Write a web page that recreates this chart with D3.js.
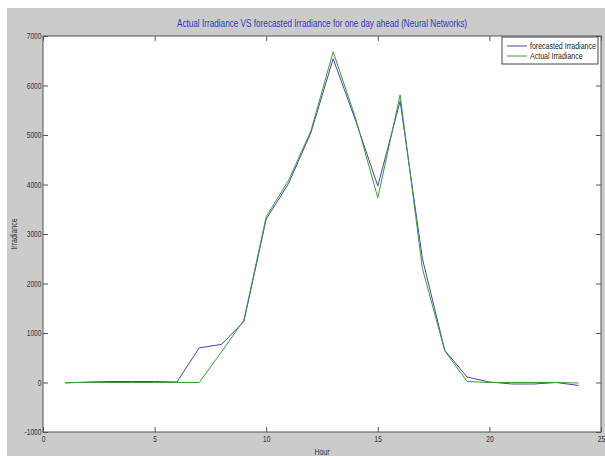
<!DOCTYPE html>
<html>
<head>
<meta charset="utf-8" />
<title>Actual vs forecasted irradiance</title>
<style>
body { margin: 0; background: #fff; }
#graph { width: 605px; height: 456px; }
text { font-family: "Liberation Sans", Arial, sans-serif; }
.axis text { font-size: 8.5px; fill: #333; }
.axis line { stroke: #555; }
.axis .domain { display: none; }
</style>
</head>
<body>
<div id="graph"></div>
<script src="https://cdnjs.cloudflare.com/ajax/libs/d3/7.8.5/d3.min.js"></script>
<script>
!(function(){
    "use strict"

    // hours 1..24
    var hours = [1,2,3,4,5,6,7,8,9,10,11,12,13,14,15,16,17,18,19,20,21,22,23,24]
    var forecasted = [-10,10,20,20,20,10,700,770,1230,3300,4020,5040,6540,5300,3970,5680,2500,650,110,10,-30,-30,0,-60]
    var actual     = [0,0,0,0,0,0,0,620,1260,3350,4080,5080,6680,5350,3730,5810,2300,640,20,0,0,0,0,-10]

    var xTicks = [0,5,10,15,20,25]
    var yTicks = [-1000,0,1000,2000,3000,4000,5000,6000,7000]

    var series = [
        { name: "forecasted Irradiance", values: forecasted, color: "#4646a8" },
        { name: "Actual Irradiance",     values: actual,     color: "#3a9a3a" }
    ]

    var width = 605, height = 456
    var margin = { top: 36, left: 43, bottom: 24, right: 4 }
    var chartWidth = width - margin.left - margin.right
    var chartHeight = height - margin.top - margin.bottom
    var narrow = "scale(0.78,1)"   // the original uses a condensed face

    var svg = d3.select("#graph").append("svg")
        .attr("width", width).attr("height", height)

    // figure background
    svg.append("rect")
        .attr("x", 7).attr("y", 8)
        .attr("width", width - 7).attr("height", height - 8)
        .attr("fill", "#cbcbcb")

    var chart = svg.append("g")
        .attr("transform", "translate(" + [margin.left, margin.top] + ")")

    chart.append("rect")
        .attr("width", chartWidth).attr("height", chartHeight)
        .attr("fill", "#fff")

    var xScale = d3.scaleLinear().domain([0, 25]).range([0, chartWidth])
    var yScale = d3.scaleLinear().domain([-1000, 7000]).range([chartHeight, 0])

    var fmt = function(d){ return String(d) }

    chart.append("g").attr("class", "axis x")
        .attr("transform", "translate(0," + chartHeight + ")")
        .call(d3.axisBottom(xScale).tickValues(xTicks).tickSizeInner(-5).tickSizeOuter(0).tickPadding(4).tickFormat(fmt))

    chart.append("g").attr("class", "axis x2")
        .call(d3.axisTop(xScale).tickValues(xTicks).tickSizeInner(-5).tickSizeOuter(0).tickFormat(""))

    chart.append("g").attr("class", "axis y")
        .call(d3.axisLeft(yScale).tickValues(yTicks).tickSizeInner(-5).tickSizeOuter(0).tickPadding(2).tickFormat(fmt))

    chart.append("g").attr("class", "axis y2")
        .attr("transform", "translate(" + chartWidth + ",0)")
        .call(d3.axisRight(yScale).tickValues(yTicks).tickSizeInner(-5).tickSizeOuter(0).tickFormat(""))

    chart.selectAll(".axis.x text, .axis.y text").attr("transform", narrow)

    // plot box
    chart.append("rect")
        .attr("width", chartWidth).attr("height", chartHeight)
        .attr("fill", "none").attr("stroke", "#555").attr("stroke-width", 1)

    var line = d3.line()
        .x(function(d, i){ return xScale(hours[i]) })
        .y(function(d){ return yScale(d) })

    chart.selectAll(".series").data(series)
        .enter().append("path")
        .attr("class", "series")
        .attr("fill", "none")
        .attr("stroke", function(d){ return d.color })
        .attr("stroke-width", 1)
        .attr("d", function(d){ return line(d.values) })

    // legend
    var lx = 502, ly = 37, lw = 96, lh = 27
    var legend = svg.append("g")
    legend.append("rect")
        .attr("x", lx).attr("y", ly).attr("width", lw).attr("height", lh)
        .attr("fill", "#fff").attr("stroke", "#444")
    var item = legend.selectAll(".item").data(series)
        .enter().append("g")
        .attr("transform", function(d, i){ return "translate(" + [lx + 5, ly + 9 + i * 10] + ")" })
    item.append("line")
        .attr("x1", 0).attr("x2", 20)
        .attr("stroke", function(d){ return d.color })
    item.append("text")
        .attr("transform", "translate(23,0) " + narrow)
        .attr("dy", "0.33em")
        .attr("font-size", 9).attr("fill", "#222")
        .text(function(d){ return d.name })

    // title and axis labels
    svg.append("text")
        .attr("transform", "translate(" + (margin.left + chartWidth / 2) + ",27) " + narrow)
        .attr("text-anchor", "middle")
        .attr("font-size", 10.5).attr("fill", "#3535c8")
        .text("Actual Irradiance VS forecasted Irradiance for one day ahead (Neural Networks)")

    svg.append("text")
        .attr("transform", "translate(" + (margin.left + chartWidth / 2) + ",455) " + narrow)
        .attr("text-anchor", "middle")
        .attr("font-size", 9).attr("fill", "#333")
        .text("Hour")

    svg.append("text")
        .attr("transform", "translate(17," + (margin.top + chartHeight / 2) + ") rotate(-90) " + narrow)
        .attr("text-anchor", "middle")
        .attr("font-size", 9).attr("fill", "#333")
        .text("Irradiance")
}());
</script>
</body>
</html>
